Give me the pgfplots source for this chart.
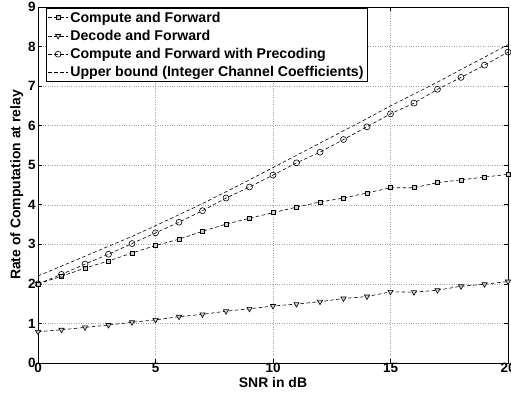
\documentclass[border=0pt]{standalone}
\usepackage{pgfplots}
\pgfplotsset{compat=1.18}
\usepackage{fontspec}
\setmainfont{Liberation Sans}
\begin{document}
\begin{tikzpicture}[font=\fontsize{13.5}{16}\selectfont\bfseries]
\begin{axis}[
  scale only axis,
  width=470bp, height=356bp,
  xmin=0, xmax=20, ymin=0, ymax=9,
  xtick={0,5,10,15,20}, ytick={0,1,...,9},
  tick align=inside,
  tick style={black, line width=0.6pt},
  major tick length=4bp,
  axis line style={black, line width=0.9pt},
  grid=major,
  major grid style={gray!70, dotted, line width=0.5pt},
  /pgf/number format/assume math mode=true,
  ticklabel style={font=\fontsize{13.5}{16}\selectfont\bfseries},
  xticklabel style={yshift=3.5bp},
  yticklabel style={xshift=1bp},
  xlabel={SNR in dB},
  ylabel={Rate of Computation at relay},
  xlabel style={yshift=1.5bp, font=\fontsize{14}{16}\selectfont\bfseries},
  ylabel style={yshift=-2bp, font=\fontsize{14}{16}\selectfont\bfseries},
  legend style={at={(rel axis cs:0.017,0.997)}, anchor=north west,
    draw=black, line width=0.6pt, fill=white, inner sep=1.5bp,
    font=\fontsize{14.2}{16}\selectfont\bfseries,
    row sep=2.5bp, /tikz/every even column/.append style={column sep=2bp}},
  legend cell align=left,
  legend image code/.code={
    \draw[mark repeat=2,mark phase=2,#1] plot coordinates {(0bp,0bp) (10bp,0bp) (20bp,0bp)};},
  every axis plot/.append style={black, line width=0.6pt, dash pattern=on 3.5bp off 2.5bp},
]
\addplot[mark=square*, mark size=2bp, mark options={solid, fill=gray!40}] coordinates {
(0,2.00) (1,2.19) (2,2.40) (3,2.58) (4,2.78) (5,2.97) (6,3.13) (7,3.33) (8,3.51) (9,3.66) (10,3.80)
(11,3.94) (12,4.07) (13,4.17) (14,4.30) (15,4.43) (16,4.43) (17,4.56) (18,4.63) (19,4.70) (20,4.77)};
\addlegendentry{Compute and Forward}
\addplot[mark=triangle*, mark size=3bp, mark options={solid, rotate=180, fill=gray!40}] coordinates {
(0,0.79) (1,0.84) (2,0.90) (3,0.96) (4,1.03) (5,1.09) (6,1.17) (7,1.23) (8,1.31) (9,1.37) (10,1.44)
(11,1.49) (12,1.55) (13,1.63) (14,1.68) (15,1.80) (16,1.79) (17,1.84) (18,1.94) (19,1.99) (20,2.06)};
\addlegendentry{Decode and Forward}
\addplot[mark=o, mark size=3bp, mark options={solid}] coordinates {
(0,2.00) (1,2.24) (2,2.50) (3,2.75) (4,3.02) (5,3.29) (6,3.56) (7,3.85) (8,4.17) (9,4.45) (10,4.75)
(11,5.06) (12,5.33) (13,5.65) (14,5.97) (15,6.30) (16,6.57) (17,6.92) (18,7.22) (19,7.53) (20,7.86)};
\addlegendentry{Compute and Forward with Precoding}
\addplot[no marks] coordinates {
(0,2.20) (1,2.45) (2,2.70) (3,2.95) (4,3.20) (5,3.47) (6,3.75) (7,4.03) (8,4.33) (9,4.63) (10,4.94)
(11,5.25) (12,5.56) (13,5.87) (14,6.18) (15,6.50) (16,6.80) (17,7.10) (18,7.42) (19,7.73) (20,8.05)};
\addlegendentry{Upper bound (Integer Channel Coefficients)}
\end{axis}
\pgfresetboundingbox
\useasboundingbox ([xshift=-38bp,yshift=-33bp]current axis.south west) rectangle ([xshift=3bp,yshift=7bp]current axis.north east);
\end{tikzpicture}
\end{document}
